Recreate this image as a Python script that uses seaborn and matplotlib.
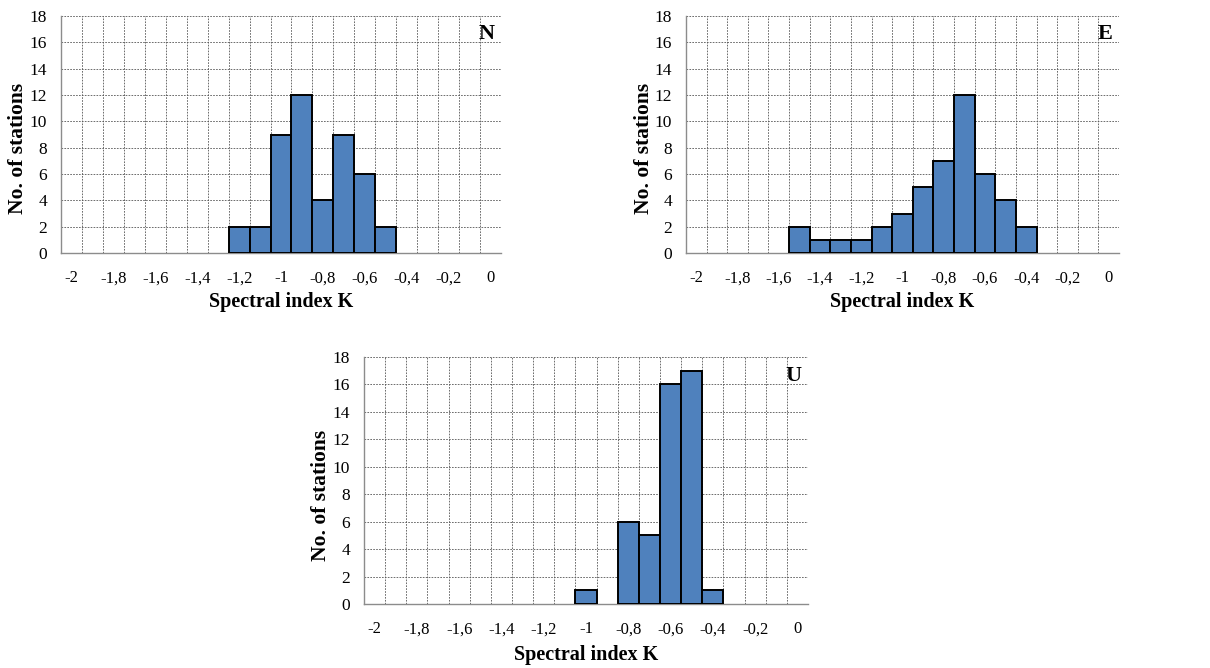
import numpy as np
import pandas as pd
import seaborn as sns
import matplotlib.pyplot as plt
from matplotlib.ticker import FixedLocator

# Spectral index categories (bin centres, comma decimal as in the original)
categories = ['-2', '-1,9', '-1,8', '-1,7', '-1,6', '-1,5', '-1,4', '-1,3', '-1,2', '-1,1', '-1',
              '-0,9', '-0,8', '-0,7', '-0,6', '-0,5', '-0,4', '-0,3', '-0,2', '-0,1', '0']

# Number of stations per bin for each component
n_counts = [0, 0, 0, 0, 0, 0, 0, 0, 2, 2, 9, 12, 4, 9, 6, 2, 0, 0, 0, 0, 0]
e_counts = [0, 0, 0, 0, 0, 2, 1, 1, 1, 2, 3, 5, 7, 12, 6, 4, 2, 0, 0, 0, 0]
u_counts = [0, 0, 0, 0, 0, 0, 0, 0, 0, 0, 1, 0, 6, 5, 16, 17, 1, 0, 0, 0, 0]

y_ticks = [0, 2, 4, 6, 8, 10, 12, 14, 16, 18]

sns.set_style('white')
plt.rcParams['font.family'] = ['Liberation Serif', 'DejaVu Serif']
plt.rcParams['text.color'] = 'black'
plt.rcParams['axes.labelcolor'] = 'black'

W, H = 1210, 668
fig = plt.figure(figsize=(W / 100, H / 100), dpi=100)

# panel boxes in pixels: left, top, right, bottom
panels = [
    ('N', n_counts, (61, 16, 501, 253)),
    ('E', e_counts, (686, 16, 1119, 253)),
    ('U', u_counts, (364, 357, 808, 604)),
]

bar_color = '#4F81BD'
grid_color = '#555555'
axis_color = '#8C8C8C'

for letter, counts, (l, t, r, b) in panels:
    ax = fig.add_axes([l / W, 1 - b / H, (r - l) / W, (b - t) / H])
    df = pd.DataFrame({'k': categories, 'stations': counts})
    sns.barplot(data=df, x='k', y='stations', order=categories, color=bar_color,
                saturation=1, width=1.0, edgecolor='black', linewidth=1.4, ax=ax, zorder=3)
    # empty bins: no outline
    for p in ax.patches:
        if p.get_height() == 0:
            p.set_visible(False)

    ax.set_xlim(-0.5, len(categories) - 0.5)
    ax.set_ylim(0, 18)

    # labels on every other category, grid lines on category borders
    ax.xaxis.set_major_locator(FixedLocator(range(0, len(categories), 2)))
    ax.set_xticklabels(categories[::2])
    plt.setp(ax.get_xticklabels(), va='baseline')
    ax.xaxis.set_minor_locator(FixedLocator(np.arange(-0.5, len(categories), 1.0)))
    ax.tick_params(axis='x', which='major', length=0, pad=21, labelsize=12, labelcolor='black')
    ax.tick_params(axis='x', which='minor', length=4, width=0.8, color=axis_color, direction='out')
    ax.set_yticks(y_ticks)
    ax.tick_params(axis='y', which='major', length=4, width=0.8, color=axis_color,
                   direction='out', pad=6, labelsize=12.5, labelcolor='black')

    ax.grid(False)
    ax.grid(True, axis='x', which='minor', linestyle=(0, (2, 1.5)), color=grid_color, linewidth=0.6, zorder=0)
    ax.grid(True, axis='y', which='major', linestyle=(0, (2, 1.5)), color=grid_color, linewidth=0.6, zorder=0)
    ax.set_axisbelow(True)

    for side in ['top', 'right']:
        ax.spines[side].set_visible(False)
    for side in ['left', 'bottom']:
        ax.spines[side].set_color(axis_color)
        ax.spines[side].set_linewidth(1.0)

    ax.set_xlabel('Spectral index K', fontsize=14.5, fontweight='bold', va='center')
    ax.set_ylabel('No. of stations', fontsize=15.5, fontweight='bold', va='center')
    ax.xaxis.set_label_coords(0.5, -0.205)
    ax.yaxis.set_label_coords((18 - 61) / 440, 0.44)
    ax.text(0.985, 0.925, letter, transform=ax.transAxes, ha='right', va='center',
            fontsize=16, fontweight='bold', zorder=5)

fig.savefig('out.png', dpi=100)
